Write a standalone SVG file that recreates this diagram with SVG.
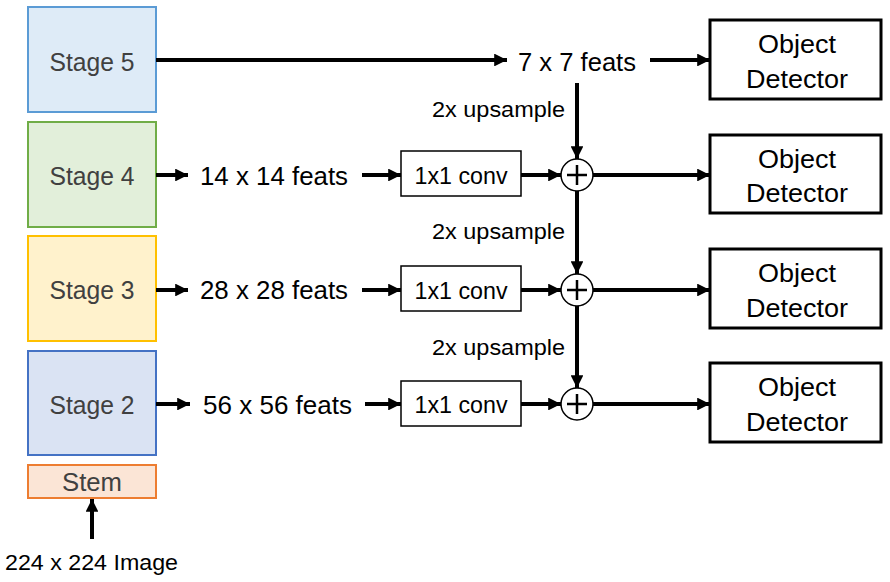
<svg xmlns="http://www.w3.org/2000/svg" width="890" height="582" viewBox="0 0 890 582">
<style>
text{font-family:"Liberation Sans",Arial,sans-serif;}
.stage{font-size:25px;fill:#404040;text-anchor:middle;}
.big{font-size:25.5px;fill:#000;}
.up{font-size:22px;fill:#000;}
.conv{font-size:23px;fill:#000;text-anchor:middle;}
.det{font-size:26.5px;fill:#000;text-anchor:middle;}
.convbox{fill:#fff;stroke:#000;stroke-width:1.5;}
.detbox{fill:#fff;stroke:#000;stroke-width:3;}
.arr{stroke:#000;stroke-width:4;fill:none;marker-end:url(#ah);}
</style>
<defs>
<marker id="ah" viewBox="0 0 12 12" refX="12" refY="6" markerWidth="3.2" markerHeight="3.2" markerUnits="strokeWidth" orient="auto">
<path d="M0,0 L12,6 L0,12 z" fill="#000"/>
</marker>
</defs>
<g id="stage5"><rect x="28" y="7" width="128" height="105" fill="#deebf7" stroke="#5b9bd5" stroke-width="2"/><text class="stage" x="92" y="71" textLength="85" lengthAdjust="spacingAndGlyphs">Stage 5</text></g>
<g id="stage4"><rect x="28" y="122" width="128" height="105" fill="#e2efda" stroke="#70ad47" stroke-width="2"/><text class="stage" x="92" y="185" textLength="85" lengthAdjust="spacingAndGlyphs">Stage 4</text></g>
<g id="stage3"><rect x="28" y="236" width="128" height="105" fill="#fff2cc" stroke="#ffc000" stroke-width="2"/><text class="stage" x="92" y="299" textLength="85" lengthAdjust="spacingAndGlyphs">Stage 3</text></g>
<g id="stage2"><rect x="28" y="351" width="128" height="104" fill="#dae3f3" stroke="#4472c4" stroke-width="2"/><text class="stage" x="92" y="414" textLength="85" lengthAdjust="spacingAndGlyphs">Stage 2</text></g>
<g id="stem"><rect x="28" y="465" width="128" height="33" fill="#fbe5d6" stroke="#ed7d31" stroke-width="2"/><text class="stage" x="92" y="491" textLength="60" lengthAdjust="spacingAndGlyphs">Stem</text></g>
<g id="input"><text class="up" x="5" y="570" textLength="173" lengthAdjust="spacingAndGlyphs">224 x 224 Image</text></g>
<g id="feat7"><text class="big" x="518" y="71" textLength="118" lengthAdjust="spacingAndGlyphs">7 x 7 feats</text></g>
<g id="feat14"><text class="big" x="200" y="185" textLength="148" lengthAdjust="spacingAndGlyphs">14 x 14 feats</text></g>
<g id="feat28"><text class="big" x="200" y="299" textLength="148" lengthAdjust="spacingAndGlyphs">28 x 28 feats</text></g>
<g id="feat56"><text class="big" x="203" y="414" textLength="149" lengthAdjust="spacingAndGlyphs">56 x 56 feats</text></g>
<g id="conv4"><rect class="convbox" x="401" y="151" width="120" height="45"/><text class="conv" x="461" y="184" textLength="93" lengthAdjust="spacingAndGlyphs">1x1 conv</text></g>
<g id="conv3"><rect class="convbox" x="401" y="266" width="120" height="45"/><text class="conv" x="461" y="299" textLength="93" lengthAdjust="spacingAndGlyphs">1x1 conv</text></g>
<g id="conv2"><rect class="convbox" x="401" y="381" width="120" height="45"/><text class="conv" x="461" y="413" textLength="93" lengthAdjust="spacingAndGlyphs">1x1 conv</text></g>
<g id="sum4"><circle cx="577" cy="175" r="16" fill="#fff" stroke="#000" stroke-width="1.5"/><path d="M567,175 H587 M577,165 V185" stroke="#000" stroke-width="2.5"/></g>
<g id="sum3"><circle cx="577" cy="290" r="16" fill="#fff" stroke="#000" stroke-width="1.5"/><path d="M567,290 H587 M577,280 V300" stroke="#000" stroke-width="2.5"/></g>
<g id="sum2"><circle cx="577" cy="404" r="16" fill="#fff" stroke="#000" stroke-width="1.5"/><path d="M567,404 H587 M577,394 V414" stroke="#000" stroke-width="2.5"/></g>
<g id="det5"><rect class="detbox" x="710" y="20" width="171" height="79"/><text class="det" x="797" y="53" textLength="78" lengthAdjust="spacingAndGlyphs">Object</text><text class="det" x="797" y="88" textLength="102" lengthAdjust="spacingAndGlyphs">Detector</text></g>
<g id="det4"><rect class="detbox" x="710" y="135" width="171" height="78"/><text class="det" x="797" y="168" textLength="78" lengthAdjust="spacingAndGlyphs">Object</text><text class="det" x="797" y="202" textLength="102" lengthAdjust="spacingAndGlyphs">Detector</text></g>
<g id="det3"><rect class="detbox" x="710" y="249" width="171" height="79"/><text class="det" x="797" y="282" textLength="78" lengthAdjust="spacingAndGlyphs">Object</text><text class="det" x="797" y="317" textLength="102" lengthAdjust="spacingAndGlyphs">Detector</text></g>
<g id="det2"><rect class="detbox" x="710" y="363" width="171" height="79"/><text class="det" x="797" y="396" textLength="78" lengthAdjust="spacingAndGlyphs">Object</text><text class="det" x="797" y="431" textLength="102" lengthAdjust="spacingAndGlyphs">Detector</text></g>
<g id="labels">
<text class="up" x="432" y="117" textLength="133" lengthAdjust="spacingAndGlyphs">2x upsample</text>
<text class="up" x="432" y="239" textLength="133" lengthAdjust="spacingAndGlyphs">2x upsample</text>
<text class="up" x="432" y="355" textLength="133" lengthAdjust="spacingAndGlyphs">2x upsample</text>
</g>
<g id="connectors">
<line class="arr" x1="156" y1="60" x2="507" y2="60"/>
<line class="arr" x1="650" y1="60" x2="710" y2="60"/>
<line class="arr" x1="577" y1="83" x2="577" y2="159"/>
<line class="arr" x1="577" y1="191" x2="577" y2="274"/>
<line class="arr" x1="577" y1="306" x2="577" y2="388"/>
<line class="arr" x1="156" y1="175" x2="188" y2="175"/>
<line class="arr" x1="156" y1="290" x2="188" y2="290"/>
<line class="arr" x1="156" y1="404" x2="190" y2="404"/>
<line class="arr" x1="362" y1="175" x2="401" y2="175"/>
<line class="arr" x1="362" y1="290" x2="401" y2="290"/>
<line class="arr" x1="365" y1="404" x2="401" y2="404"/>
<line class="arr" x1="521" y1="175" x2="561" y2="175"/>
<line class="arr" x1="521" y1="290" x2="561" y2="290"/>
<line class="arr" x1="521" y1="404" x2="561" y2="404"/>
<line class="arr" x1="593" y1="175" x2="710" y2="175"/>
<line class="arr" x1="593" y1="290" x2="710" y2="290"/>
<line class="arr" x1="593" y1="404" x2="710" y2="404"/>
<line class="arr" x1="92" y1="539" x2="92" y2="499"/>
</g>
</svg>
